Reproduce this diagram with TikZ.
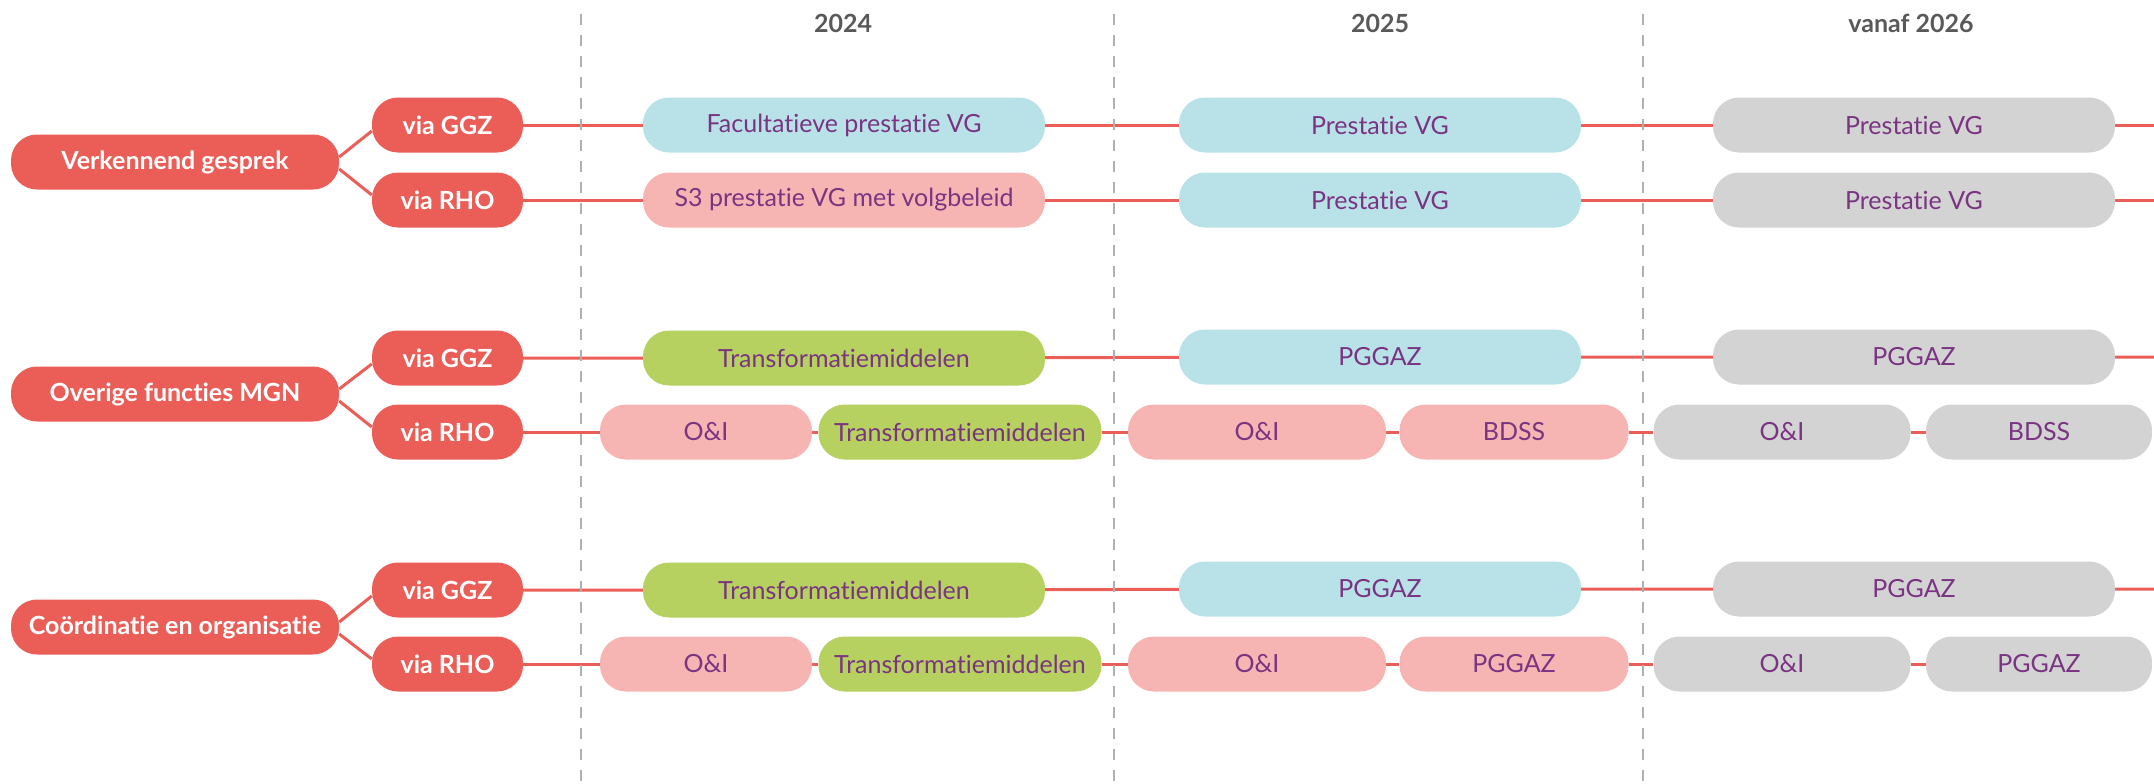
\documentclass[tikz,border=0pt]{standalone}
\usepackage{fontspec}
\setmainfont{Lato}[Ligatures={NoCommon}]
\usetikzlibrary{backgrounds}
\definecolor{cred}{RGB}{235,94,88}
\definecolor{cblue}{RGB}{184,226,232}
\definecolor{cpink}{RGB}{246,181,179}
\definecolor{cgreen}{RGB}{182,209,96}
\definecolor{cgray}{RGB}{211,211,211}
\definecolor{cpurple}{RGB}{122,52,130}
\definecolor{cyear}{RGB}{89,89,89}
\definecolor{cdash}{RGB}{176,176,176}
\tikzset{
  pill/.style={rounded corners=26pt, minimum height=55pt, inner sep=0pt,
    text=cpurple, font=\fontsize{25}{30}\selectfont},
  redpill/.style={pill, fill=cred, text=white, font=\bfseries\fontsize{25}{30}\selectfont},
  mainpill/.style={redpill, minimum width=328pt},
  viapill/.style={redpill, minimum width=151pt},
  bluepill/.style={pill, fill=cblue},
  pinkpill/.style={pill, fill=cpink},
  greenpill/.style={pill, fill=cgreen},
  graypill/.style={pill, fill=cgray},
  wide/.style={minimum width=402pt},
  rline/.style={draw=cred, line width=3pt},
  dashline/.style={draw=cdash, line width=2.5pt, dash pattern=on 11pt off 10pt},
  year/.style={text=cyear, font=\bfseries\fontsize{25}{30}\selectfont, inner sep=0pt}
}
\begin{document}
\begin{tikzpicture}[x=1pt, y=-1pt]
\useasboundingbox (0,0) rectangle (2154,784);
% dividers
\coordinate (d1t) at (581,14); \coordinate (d1b) at (581,784);
\coordinate (d2t) at (1114,14); \coordinate (d2b) at (1114,784);
\coordinate (d3t) at (1643,14); \coordinate (d3b) at (1643,784);
\draw[dashline] (d1t) -- (d1b);
\draw[dashline] (d2t) -- (d2b);
\draw[dashline] (d3t) -- (d3b);
% years
\node[year] (y1) at (843,23) {2024};
\node[year] (y2) at (1380,23) {2025};
\node[year] (y3) at (1911,23) {vanaf 2026};
% main nodes
\node[mainpill] (m1) at (175,162) {Verkennend gesprek};
\node[mainpill] (m2) at (175,394) {Overige functies MGN};
\node[mainpill] (m3) at (175,627) {Coördinatie en organisatie};
% via nodes
\node[viapill] (g1) at (447.5,125) {via GGZ};
\node[viapill] (r1) at (447.5,200) {via RHO};
\node[viapill] (g2) at (447.5,358) {via GGZ};
\node[viapill] (r2) at (447.5,432) {via RHO};
\node[viapill] (g3) at (447.5,590) {via GGZ};
\node[viapill] (r3) at (447.5,664) {via RHO};
% row 1
\node[bluepill, wide] (a1) at (844,125) {Facultatieve prestatie VG};
\node[bluepill, wide] (b1) at (1380,125) {Prestatie VG};
\node[graypill, wide] (c1) at (1914,125) {Prestatie VG};
\coordinate (e1) at (2154,125);
% row 2
\node[pinkpill, wide] (a2) at (844,200) {S3 prestatie VG met volgbeleid};
\node[bluepill, wide] (b2) at (1380,200) {Prestatie VG};
\node[graypill, wide] (c2) at (1914,200) {Prestatie VG};
\coordinate (e2) at (2154,200);
% row 3
\node[greenpill, wide] (a3) at (844,358) {Transformatiemiddelen};
\node[bluepill, wide] (b3) at (1380,357) {PGGAZ};
\node[graypill, wide] (c3) at (1914,357) {PGGAZ};
\coordinate (e3) at (2154,357);
% row 4
\node[pinkpill, minimum width=212pt] (p4a) at (706,432) {O\&I};
\node[greenpill, minimum width=283pt] (p4b) at (960,432) {Transformatiemiddelen};
\node[pinkpill, minimum width=258pt] (p4c) at (1257,432) {O\&I};
\node[pinkpill, minimum width=229pt] (p4d) at (1514,432) {BDSS};
\node[graypill, minimum width=257pt] (p4e) at (1782,432) {O\&I};
\node[graypill, minimum width=226pt] (p4f) at (2039,432) {BDSS};
% row 5
\node[greenpill, wide] (a5) at (844,590) {Transformatiemiddelen};
\node[bluepill, wide] (b5) at (1380,589) {PGGAZ};
\node[graypill, wide] (c5) at (1914,589) {PGGAZ};
\coordinate (e5) at (2154,589);
% row 6
\node[pinkpill, minimum width=212pt] (p6a) at (706,664) {O\&I};
\node[greenpill, minimum width=283pt] (p6b) at (960,664) {Transformatiemiddelen};
\node[pinkpill, minimum width=258pt] (p6c) at (1257,664) {O\&I};
\node[pinkpill, minimum width=229pt] (p6d) at (1514,664) {PGGAZ};
\node[graypill, minimum width=257pt] (p6e) at (1782,664) {O\&I};
\node[graypill, minimum width=226pt] (p6f) at (2039,664) {PGGAZ};
% connectors
\begin{scope}[on background layer]
\draw[rline] ([yshift=5pt]m1.east) -- ([yshift=-6pt]g1.west);
\draw[rline] ([yshift=-7pt]m1.east) -- ([yshift=5pt]r1.west);
\draw[rline] ([yshift=5pt]m2.east) -- ([yshift=-6pt]g2.west);
\draw[rline] ([yshift=-7pt]m2.east) -- ([yshift=5pt]r2.west);
\draw[rline] ([yshift=5pt]m3.east) -- ([yshift=-6pt]g3.west);
\draw[rline] ([yshift=-7pt]m3.east) -- ([yshift=5pt]r3.west);
\draw[rline] (g1) -- (a1) -- (b1) -- (c1) -- (e1);
\draw[rline] (r1) -- (a2) -- (b2) -- (c2) -- (e2);
\draw[rline] (g2) -- (a3) -- (b3) -- (c3) -- (e3);
\draw[rline] (r2) -- (p4a) -- (p4b) -- (p4c) -- (p4d) -- (p4e) -- (p4f);
\draw[rline] (g3) -- (a5) -- (b5) -- (c5) -- (e5);
\draw[rline] (r3) -- (p6a) -- (p6b) -- (p6c) -- (p6d) -- (p6e) -- (p6f);
\end{scope}
\end{tikzpicture}
\end{document}
